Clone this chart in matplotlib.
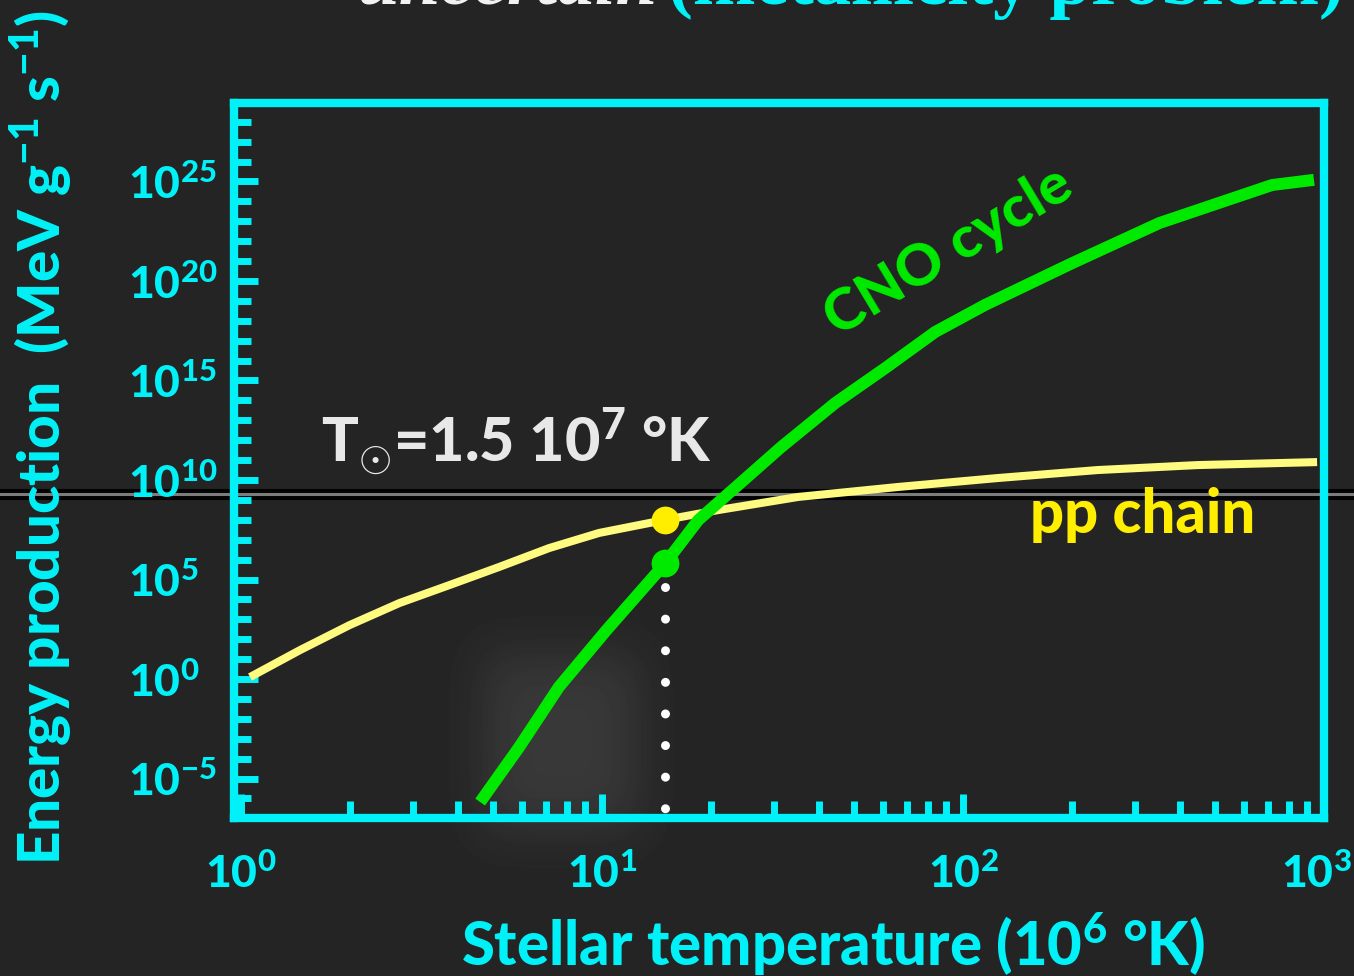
import numpy as np
import matplotlib
matplotlib.use("Agg")
import matplotlib.pyplot as plt
from matplotlib.ticker import NullFormatter
from matplotlib.transforms import ScaledTranslation

# stellar temperature in units of 10^6 K, energy production as log10(MeV g^-1 s^-1)
pp_temp = [1.06, 1.46, 2.0, 2.75, 3.78, 5.19, 7.14, 9.82, 15.0, 21.0, 35.0, 66.1, 125, 236, 446, 957]
pp_log_rate = [0.10, 1.46, 2.71, 3.82, 4.72, 5.63, 6.58, 7.34, 8.0, 8.49, 9.15, 9.65, 10.10, 10.50, 10.75, 10.90]

cno_temp = [4.6, 5.9, 7.6, 10.3, 15.0, 18.5, 24.2, 31.4, 44.3, 61.0, 83.8, 115, 201, 350, 718, 938]
cno_log_rate = [-6.18, -3.42, -0.40, 2.46, 5.83, 7.99, 9.85, 11.66, 13.87, 15.63, 17.44, 18.79, 20.90, 22.91, 24.82, 25.08]

# the Sun: T = 1.5 10^7 K
sun_temp = 15.0
sun_pp_log = 8.0
sun_cno_log = 5.83

x_major = [1, 10, 100, 1000]
x_labels = [r"$10^{0}$", r"$10^{1}$", r"$10^{2}$", r"$10^{3}$"]
y_major_exp = [-5, 0, 5, 10, 15, 20, 25]
y_minor_exp = list(range(-6, 29))

CYAN = "#00F2F8"
GREEN = "#00EA00"
PP_LINE = "#FFFA80"
PP_DOT = "#FFEE00"

plt.rcParams["font.family"] = ["Lato", "DejaVu Sans"]
plt.rcParams["font.weight"] = "black"
plt.rcParams["mathtext.fontset"] = "custom"
plt.rcParams["mathtext.rm"] = "Lato:black"
plt.rcParams["mathtext.bf"] = "Lato:black"
plt.rcParams["mathtext.it"] = "Lato:black"
plt.rcParams["mathtext.default"] = "rm"

W, H = 1354, 976
fig = plt.figure(figsize=(W / 100, H / 100), dpi=100, facecolor="#252525")

# dark backdrop with a soft light patch and the horizontal streak
bg = fig.add_axes([0, 0, 1, 1], zorder=0)
bg.set_axis_off()
gy, gx = np.mgrid[0:H:4, 0:W:4]
shade = 0.145 + 0.075 * np.exp(-(((gx - 560) / 85.0) ** 4 + ((gy - 740) / 95.0) ** 4))
bg.imshow(shade, cmap="gray", vmin=0, vmax=1, extent=[0, 1, 0, 1], aspect="auto", interpolation="bilinear")
bg.set_xlim(0, 1)
bg.set_ylim(0, 1)
streak_y = 1 - 494 / H
bg.axhline(streak_y, color="black", lw=8, alpha=0.9)
bg.axhline(streak_y, color="#7c7c7c", lw=2.2)

ax = fig.add_axes([234 / W, 1 - 818 / H, (1324 - 234) / W, (818 - 103) / H], zorder=1)
ax.patch.set_alpha(0)
ax.set_xscale("log")
ax.set_yscale("log")
ax.set_xlim(10 ** -0.019, 10 ** 2.992)
ax.set_ylim(10 ** -6.98, 10 ** 28.94)

for s in ax.spines.values():
    s.set_color(CYAN)
    s.set_linewidth(6)

ax.set_xticks(x_major, labels=x_labels)
ax.set_xticks([m * 10 ** k for k in range(3) for m in range(2, 10)], minor=True)
ax.set_yticks([10.0 ** e for e in y_major_exp], labels=[r"$10^{%d}$" % e for e in y_major_exp])
ax.set_yticks([10.0 ** e for e in y_minor_exp], minor=True)
ax.xaxis.set_minor_formatter(NullFormatter())
ax.yaxis.set_minor_formatter(NullFormatter())

ax.tick_params(which="both", direction="in", color=CYAN, width=5, top=False, right=False)
ax.tick_params(which="major", length=17.5, labelsize=32, labelcolor=CYAN)
ax.tick_params(which="minor", length=12.5)
ax.tick_params(axis="x", which="major", pad=25)
ax.tick_params(axis="y", which="major", pad=76)
for lab in ax.get_yticklabels():
    lab.set_horizontalalignment("left")

# keep the last x label inside the figure edge
last = ax.get_xticklabels()[-1]
last.set_transform(last.get_transform() + ScaledTranslation(-8 / 100, 0, fig.dpi_scale_trans))

# reaction rates
pp_rate = [10.0 ** v for v in pp_log_rate]
cno_rate = [10.0 ** v for v in cno_log_rate]
ax.plot(pp_temp, pp_rate, color=PP_LINE, lw=5.8, solid_capstyle="butt", zorder=3)
ax.plot(cno_temp, cno_rate, color=GREEN, lw=8.6, solid_capstyle="butt", zorder=4)

# solar core temperature marker
ax.plot([sun_temp, sun_temp], [10.0 ** sun_cno_log, ax.get_ylim()[0]], color="white", lw=6.5,
        linestyle=(0.84, (0.001, 3.5)), dash_capstyle="round", clip_on=False, zorder=5)
ax.plot(sun_temp, 10.0 ** sun_pp_log, "o", color=PP_DOT, ms=20, mec="none", zorder=6)
ax.plot(sun_temp, 10.0 ** sun_cno_log, "o", color=GREEN, ms=20, mec="none", zorder=6)

ax.text(153, 10 ** 7.34, "pp chain", color=PP_DOT, fontsize=43, ha="left", va="baseline")
ax.text(91, 10 ** 21.46, "CNO cycle", color=GREEN, fontsize=42, rotation=31,
        rotation_mode="anchor", ha="center", va="center")
ax.text(1.67, 10 ** 10.9, r"T$_{\odot}$=1.5 $10^{7}$ °K", color="#E8E8E8", fontsize=44,
        ha="left", va="baseline")

fig.text(833 / W, 1 - 966 / H, r"Stellar temperature ($10^{6}$ °K)", color=CYAN, fontsize=43,
         ha="center", va="baseline")
fig.text(60 / W, 1 - 865 / H, r"Energy production  (MeV $g^{-1}$ $s^{-1}$)", color=CYAN, fontsize=42,
         rotation=90, rotation_mode="anchor", ha="left", va="baseline")

# heading above the panel
fig.text(658 / W, 1 - 4 / H, "uncertain", color="#F2F2F2", fontsize=54, family="Liberation Serif",
         style="italic", weight="bold", ha="right", va="baseline")
fig.text(668 / W, 1 - 4 / H, "(metallicity problem)", color=CYAN, fontsize=54, family="Liberation Serif",
         weight="bold", ha="left", va="baseline")

fig.savefig("out.png", dpi=100, facecolor=fig.get_facecolor())
